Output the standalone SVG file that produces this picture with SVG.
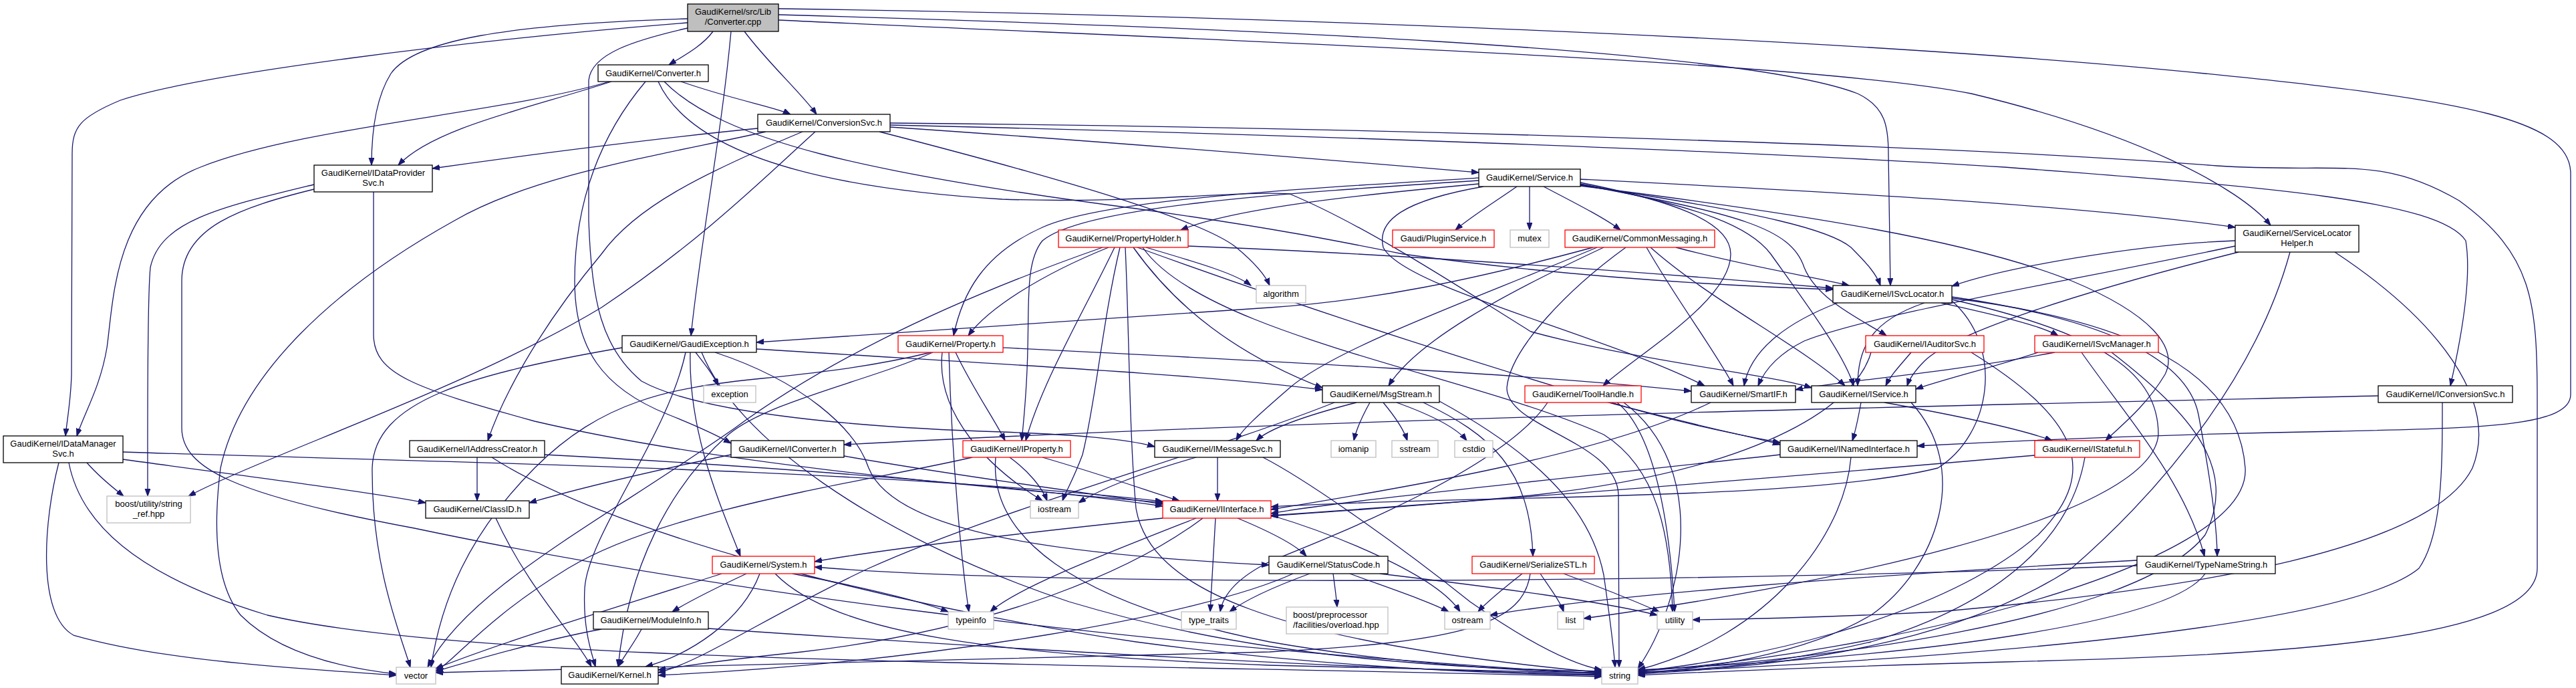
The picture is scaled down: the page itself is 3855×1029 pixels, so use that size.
<svg xmlns="http://www.w3.org/2000/svg" width="3855" height="1029" viewBox="0 0 3855 1029">
<style>
rect{fill:#fff;stroke:#000;stroke-width:1.3}
.r rect{stroke:#f00}
.g rect{stroke:#bfbfbf}
.m rect{fill:#bfbfbf}
text{font-family:"Liberation Sans",Arial,sans-serif;font-size:13px;text-anchor:middle;fill:#000}
.l text{text-anchor:start}
#edges path{fill:none;stroke:#191970;stroke-width:1.3;marker-end:url(#a)}
</style>
<defs>
<marker id="a" markerWidth="12" markerHeight="9" refX="11" refY="4" orient="auto" markerUnits="userSpaceOnUse"><path d="M0,0 L11,4 L0,8 z" fill="#191970" stroke="#191970" stroke-width="1"/></marker>
</defs>
<rect x="0" y="0" width="3855" height="1029" style="fill:#fff;stroke:none"/>
<g id="edges">
<path d="M1067,47 C1050,70 1020,85 1001,97"/>
<path d="M1114,47 C1150,95 1200,140 1222,171"/>
<path d="M1094,47 C1080,200 1050,350 1034,502"/>
<path d="M1029,28 C760,36 620,60 585,110 C560,150 556,210 556,247"/>
<path d="M1029,34 C700,60 300,110 180,150 C120,175 108,190 108,230 L107,560 C106,600 100,630 98,652"/>
<path d="M1029,42 C950,60 885,80 881,120 L881,330 C885,450 900,520 960,570 C1050,620 1300,640 1500,646 C1600,650 1680,655 1728,668"/>
<path d="M1165,13 C1700,20 2700,50 3300,110 C3700,150 3847,180 3847,260 L3847,590 C3847,640 3700,640 3500,645 C3200,650 3000,660 2869,667"/>
<path d="M1165,22 C1800,40 2600,70 2780,140 C2822,160 2826,190 2826,230 L2829,427"/>
<path d="M1165,30 C1800,60 2700,90 2950,140 C3200,200 3350,280 3398,337"/>
<path d="M915,122 C800,160 650,190 596,247"/>
<path d="M912,122 C750,170 450,190 300,250 C170,300 170,450 160,520 C150,580 125,620 115,652"/>
<path d="M966,122 C900,200 860,300 860,420 C860,520 900,580 1000,620 C1050,640 1080,655 1094,663"/>
<path d="M1019,122 C1100,150 1160,160 1183,171"/>
<path d="M994,122 C1080,210 1300,260 1700,312 C1900,340 2000,360 2100,380 C2350,415 2600,428 2743,433"/>
<path d="M985,122 C1030,220 1200,280 1500,298 C1700,305 1850,285 1930,290 C2050,340 2200,440 2291,496 C2450,540 2650,560 2711,580"/>
<path d="M1134,192 C1000,205 800,230 647,252"/>
<path d="M1146,197 C1000,230 800,260 680,330 C500,430 360,560 330,700 C320,780 320,870 360,920 C420,980 520,1000 593,1008"/>
<path d="M1220,197 C1150,260 1050,360 900,460 C700,580 400,680 282,742"/>
<path d="M1201,197 C1050,260 950,310 900,380 C800,500 750,600 730,659"/>
<path d="M1316,197 C1600,270 1800,330 1850,370 C1880,395 1895,415 1900,427"/>
<path d="M1332,190 C1700,215 2000,240 2213,258"/>
<path d="M1332,187 C1900,200 2600,225 3000,250 C3400,280 3650,300 3690,360 C3700,420 3680,520 3667,577"/>
<path d="M1332,184 C2000,190 2900,215 3318,248 C3500,260 3560,230 3680,300 C3790,380 3797,450 3797,600 L3797,850 C3797,960 3400,980 3000,990 C2700,998 2550,1005 2451,1010"/>
<path d="M470,276 C330,310 240,330 225,400 C220,450 221,650 221,742"/>
<path d="M470,283 C360,310 272,340 272,420 L272,640 C272,700 350,740 620,790 C1000,870 1600,960 2397,1008"/>
<path d="M559,287 L559,500 C559,560 620,580 800,630 C1100,700 1500,730 1740,752"/>
<path d="M184,687 C350,710 550,735 637,752"/>
<path d="M130,692 C150,715 170,730 185,742"/>
<path d="M88,692 C65,780 55,920 110,950 C250,990 450,1000 593,1010"/>
<path d="M103,692 C120,780 200,860 400,920 C700,990 1500,990 2397,1012"/>
<path d="M184,676 C600,690 1300,700 1740,750"/>
<path d="M2270,279 C2240,300 2200,325 2178,344"/>
<path d="M2289,279 L2289,344"/>
<path d="M2310,279 C2350,300 2400,325 2425,344"/>
<path d="M2213,275 C2050,290 1850,310 1767,344"/>
<path d="M2213,266 C1900,285 1650,300 1560,340 C1470,380 1440,440 1427,502"/>
<path d="M2213,270 C1900,290 1620,310 1560,360 C1535,390 1540,450 1538,520 C1537,580 1532,630 1529,659"/>
<path d="M2220,279 C2100,300 2060,330 2070,370 C2100,430 2400,500 2551,577"/>
<path d="M2365,268 C2700,285 3100,305 3345,340"/>
<path d="M2365,273 C2500,300 2590,330 2590,380 C2590,450 2450,530 2399,577"/>
<path d="M2365,275 C2550,310 2620,340 2650,380 C2700,450 2760,530 2774,577"/>
<path d="M2365,276 C2600,320 2680,340 2700,400 C2720,450 2790,480 2823,502"/>
<path d="M2365,277 C2650,320 2740,345 2770,370 C2795,395 2808,410 2814,427"/>
<path d="M2365,278 C2700,320 2950,360 3100,420 C3220,470 3260,520 3240,560 C3210,610 3170,640 3151,659"/>
<path d="M3345,360 C3200,365 3000,400 2921,428"/>
<path d="M3345,368 C3100,420 2800,470 2700,510 C2660,530 2640,555 2631,577"/>
<path d="M3350,377 C3100,440 2920,500 2880,540 C2865,555 2858,565 2854,577"/>
<path d="M3427,377 C3380,550 3250,720 3100,850 C2900,980 2600,1000 2451,1008"/>
<path d="M3494,377 C3650,480 3740,600 3700,700 C3640,820 3300,880 2900,915 C2700,925 2600,926 2533,927"/>
<path d="M1650,370 C1450,440 1250,530 1100,640 C900,780 700,880 640,998"/>
<path d="M1659,370 C1560,410 1480,460 1449,502"/>
<path d="M1668,370 C1620,470 1560,570 1535,659"/>
<path d="M1676,370 C1650,480 1640,600 1620,680 C1605,720 1595,735 1590,749"/>
<path d="M1684,370 C1690,500 1690,650 1700,760 C1720,880 1900,960 2397,1006"/>
<path d="M1696,370 C1760,460 1850,530 1979,580"/>
<path d="M1702,370 C1950,460 2200,540 2400,600 C2550,640 2630,655 2664,665"/>
<path d="M1715,370 C1800,395 1850,410 1872,427"/>
<path d="M1778,368 C2100,380 2500,410 2743,431"/>
<path d="M1710,370 C1800,500 2200,560 2400,650 C2480,700 2500,800 2503,915"/>
<path d="M2384,370 C2200,420 2050,450 1900,460 C1600,480 1300,500 1132,512"/>
<path d="M2390,370 C2200,450 2000,520 1930,580 C1890,615 1860,640 1850,659"/>
<path d="M2400,370 C2250,440 2120,510 2078,577"/>
<path d="M2433,370 C2350,430 2260,520 2255,580 C2255,640 2420,660 2422,740 L2423,998"/>
<path d="M2464,370 C2510,450 2570,530 2594,577"/>
<path d="M2470,370 C2560,450 2700,520 2761,577"/>
<path d="M2508,370 C2620,400 2720,415 2767,427"/>
<path d="M2905,453 C2980,470 3050,485 3080,502"/>
<path d="M2750,453 C2680,480 2620,520 2610,577"/>
<path d="M2880,453 C2800,480 2780,520 2780,577"/>
<path d="M2921,444 C3100,470 3270,520 3290,620 C3305,700 3318,780 3318,832"/>
<path d="M2921,448 C3150,500 3230,560 3230,650 C3220,780 2700,880 2370,925"/>
<path d="M2921,446 C3200,480 3350,560 3360,700 C3370,850 2800,980 2451,1004"/>
<path d="M2921,450 C3000,520 2980,650 2900,700 C2700,750 2200,740 1902,758"/>
<path d="M1041,527 C1055,545 1067,560 1075,577"/>
<path d="M931,520 C700,560 560,600 557,700 C556,850 600,950 614,998"/>
<path d="M1026,527 C1000,650 880,800 875,880 C872,940 885,975 891,997"/>
<path d="M1033,527 C1030,650 1080,760 1108,832"/>
<path d="M1070,527 C1200,570 1280,640 1300,700 C1340,800 1600,830 1899,845"/>
<path d="M1050,527 C1100,650 1300,800 1600,900 C1900,990 2200,1000 2397,1004"/>
<path d="M1132,522 C1500,545 1800,560 1979,583"/>
<path d="M1393,527 C1300,550 1200,560 1140,566 C1000,580 900,600 800,700 C700,800 660,900 645,998"/>
<path d="M1396,527 C1300,570 1150,600 1090,650 C1000,730 940,850 925,997"/>
<path d="M1420,527 C1425,700 1440,850 1450,915"/>
<path d="M1430,527 C1455,580 1490,630 1504,659"/>
<path d="M1501,520 C1900,540 2300,560 2531,585"/>
<path d="M1410,527 C1400,620 1480,700 1560,749"/>
<path d="M2030,602 C1960,620 1900,640 1880,659"/>
<path d="M1997,602 C1800,680 1500,760 1300,850 C1150,920 1050,990 985,1006"/>
<path d="M2050,602 C2040,620 2030,640 2026,659"/>
<path d="M2070,602 C2085,620 2100,640 2106,659"/>
<path d="M2090,602 C2140,620 2180,640 2195,659"/>
<path d="M2130,602 C2230,650 2290,700 2294,832"/>
<path d="M2154,600 C2300,680 2380,760 2400,860 C2410,930 2415,970 2417,998"/>
<path d="M1822,684 L1822,749"/>
<path d="M1790,684 C1700,710 1650,730 1614,752"/>
<path d="M1890,684 C1960,720 2100,820 2200,900 C2300,970 2360,995 2397,1002"/>
<path d="M1455,684 C1300,720 1000,760 850,850 C720,930 680,990 652,1003"/>
<path d="M1511,684 C1540,705 1560,730 1567,749"/>
<path d="M1560,684 C1650,710 1720,735 1765,749"/>
<path d="M1490,684 C1480,800 1600,900 1900,960 C2100,995 2300,1005 2397,1006"/>
<path d="M1094,680 C950,710 850,735 792,752"/>
<path d="M1263,682 C1450,715 1650,740 1740,754"/>
<path d="M714,684 L714,749"/>
<path d="M815,680 C1200,700 1550,730 1740,757"/>
<path d="M736,684 C900,790 1300,900 1700,960 C2000,1000 2250,1008 2397,1010"/>
<path d="M3559,592 C3000,605 2000,625 1263,665"/>
<path d="M3655,602 C3655,700 3655,800 3620,850 C3500,950 2800,990 2451,1006"/>
<path d="M2560,602 C2400,680 2100,730 1902,762"/>
<path d="M2785,602 C2780,630 2775,650 2772,659"/>
<path d="M2820,602 C2920,620 3020,640 3071,659"/>
<path d="M2860,602 C2950,700 2900,850 2800,920 C2700,980 2550,1000 2451,1007"/>
<path d="M2664,680 C2300,720 2000,750 1902,768"/>
<path d="M2770,684 C2760,800 2650,950 2451,1002"/>
<path d="M3045,681 C2600,720 2200,750 1902,771"/>
<path d="M3120,684 C3100,800 3000,900 2800,960 C2650,995 2550,1002 2451,1005"/>
<path d="M2860,527 C2845,545 2830,560 2822,577"/>
<path d="M2800,527 C2780,600 2650,700 2300,740 C2100,760 1980,765 1902,772"/>
<path d="M2950,527 C3100,620 3150,700 3050,800 C2900,930 2600,990 2451,1004"/>
<path d="M3050,527 C2980,550 2900,570 2867,582"/>
<path d="M3075,527 C2900,560 2750,570 2687,583"/>
<path d="M3115,527 C3180,620 3270,720 3299,832"/>
<path d="M3160,527 C3280,620 3350,700 3300,800 C3200,930 2700,990 2451,1003"/>
<path d="M2316,602 C2250,700 2000,800 1900,840 C1850,865 1830,890 1826,915"/>
<path d="M2412,602 C2500,630 2600,650 2664,662"/>
<path d="M2420,602 C2480,650 2500,800 2506,915"/>
<path d="M2430,602 C2560,700 2520,900 2451,1000"/>
<path d="M1740,775 C1500,800 1300,825 1219,840"/>
<path d="M1790,775 C1650,830 1520,880 1482,915"/>
<path d="M1800,775 C1700,850 1500,940 1200,975 C1100,985 1030,995 985,1002"/>
<path d="M1819,775 L1811,915"/>
<path d="M1852,775 C1900,795 1940,815 1955,832"/>
<path d="M1900,770 C2000,800 2150,860 2185,915"/>
<path d="M742,775 C790,880 860,950 885,997"/>
<path d="M1117,858 C1070,880 1030,900 1006,915"/>
<path d="M1137,858 C1110,930 1030,980 966,997"/>
<path d="M1186,858 C1300,880 1380,900 1419,915"/>
<path d="M1080,858 C950,900 750,960 652,1000"/>
<path d="M1160,858 C1250,950 1500,980 1900,995 C2150,1002 2300,1005 2397,1007"/>
<path d="M960,941 C950,960 935,980 925,997"/>
<path d="M900,941 C800,960 700,990 652,1004"/>
<path d="M1060,940 C1500,970 2000,1000 2397,1009"/>
<path d="M1995,858 C1998,880 2000,895 2001,908"/>
<path d="M2020,858 C2080,880 2140,900 2168,915"/>
<path d="M2065,858 C2250,880 2400,900 2480,920"/>
<path d="M1960,858 C1900,880 1860,900 1840,915"/>
<path d="M1935,858 C1800,920 1400,990 985,1010"/>
<path d="M2278,858 C2250,880 2225,900 2212,915"/>
<path d="M2305,858 C2320,880 2335,900 2340,915"/>
<path d="M2340,858 C2400,880 2460,905 2483,915"/>
<path d="M2290,858 C2280,930 2200,960 1900,975 C1400,990 900,1000 652,1006"/>
<path d="M3198,838 C2800,860 2400,890 2230,920"/>
<path d="M3198,846 C2600,870 1600,880 1219,848"/>
<path d="M3300,858 C3250,930 2900,980 2451,1002"/>
</g>
<g id="n_cpp" class="m"><rect x="1029" y="6" width="136" height="41"/><text x="1097" y="22">GaudiKernel/src/Lib</text><text x="1097" y="37">/Converter.cpp</text></g>
<g id="n_converter"><rect x="895" y="97" width="165" height="25"/><text x="977.5" y="114">GaudiKernel/Converter.h</text></g>
<g id="n_conversionsvc"><rect x="1134" y="171" width="198" height="26"/><text x="1233" y="188">GaudiKernel/ConversionSvc.h</text></g>
<g id="n_idataprovidersvc"><rect x="470" y="247" width="177" height="40"/><text x="558.5" y="263">GaudiKernel/IDataProvider</text><text x="558.5" y="278">Svc.h</text></g>
<g id="n_service"><rect x="2213" y="253" width="152" height="26"/><text x="2289" y="270">GaudiKernel/Service.h</text></g>
<g id="n_servicelocatorhelper"><rect x="3345" y="337" width="185" height="40"/><text x="3437.5" y="353">GaudiKernel/ServiceLocator</text><text x="3437.5" y="368">Helper.h</text></g>
<g id="n_propertyholder" class="r"><rect x="1584" y="344" width="194" height="26"/><text x="1681" y="361">GaudiKernel/PropertyHolder.h</text></g>
<g id="n_pluginservice" class="r"><rect x="2084" y="344" width="152" height="26"/><text x="2160" y="361">Gaudi/PluginService.h</text></g>
<g id="n_mutex" class="g"><rect x="2260" y="344" width="58" height="26"/><text x="2289" y="361">mutex</text></g>
<g id="n_commonmessaging" class="r"><rect x="2342" y="344" width="224" height="26"/><text x="2454" y="361">GaudiKernel/CommonMessaging.h</text></g>
<g id="n_algorithm" class="g"><rect x="1880" y="427" width="74" height="26"/><text x="1917" y="444">algorithm</text></g>
<g id="n_isvclocator"><rect x="2743" y="427" width="178" height="26"/><text x="2832" y="444">GaudiKernel/ISvcLocator.h</text></g>
<g id="n_gaudiexception"><rect x="931" y="502" width="201" height="25"/><text x="1031.5" y="519">GaudiKernel/GaudiException.h</text></g>
<g id="n_property" class="r"><rect x="1344" y="502" width="157" height="25"/><text x="1422.5" y="519">GaudiKernel/Property.h</text></g>
<g id="n_iauditorsvc" class="r"><rect x="2792" y="502" width="177" height="25"/><text x="2880.5" y="519">GaudiKernel/IAuditorSvc.h</text></g>
<g id="n_isvcmanager" class="r"><rect x="3045" y="502" width="185" height="25"/><text x="3137.5" y="519">GaudiKernel/ISvcManager.h</text></g>
<g id="n_exception" class="g"><rect x="1053" y="577" width="78" height="25"/><text x="1092" y="594">exception</text></g>
<g id="n_msgstream"><rect x="1979" y="577" width="175" height="25"/><text x="2066.5" y="594">GaudiKernel/MsgStream.h</text></g>
<g id="n_toolhandle" class="r"><rect x="2282" y="577" width="174" height="25"/><text x="2369" y="594">GaudiKernel/ToolHandle.h</text></g>
<g id="n_smartif"><rect x="2531" y="577" width="156" height="25"/><text x="2609" y="594">GaudiKernel/SmartIF.h</text></g>
<g id="n_iservice"><rect x="2711" y="577" width="156" height="25"/><text x="2789" y="594">GaudiKernel/IService.h</text></g>
<g id="n_iconversionsvc"><rect x="3559" y="577" width="201" height="25"/><text x="3659.5" y="594">GaudiKernel/IConversionSvc.h</text></g>
<g id="n_idatamanagersvc"><rect x="5" y="652" width="179" height="40"/><text x="94.5" y="668">GaudiKernel/IDataManager</text><text x="94.5" y="683">Svc.h</text></g>
<g id="n_iaddresscreator"><rect x="613" y="659" width="202" height="25"/><text x="714" y="676">GaudiKernel/IAddressCreator.h</text></g>
<g id="n_iconverter"><rect x="1094" y="659" width="169" height="25"/><text x="1178.5" y="676">GaudiKernel/IConverter.h</text></g>
<g id="n_iproperty" class="r"><rect x="1441" y="659" width="161" height="25"/><text x="1521.5" y="676">GaudiKernel/IProperty.h</text></g>
<g id="n_imessagesvc"><rect x="1728" y="659" width="188" height="25"/><text x="1822" y="676">GaudiKernel/IMessageSvc.h</text></g>
<g id="n_iomanip" class="g"><rect x="1992" y="659" width="67" height="25"/><text x="2025.5" y="676">iomanip</text></g>
<g id="n_sstream" class="g"><rect x="2083" y="659" width="69" height="25"/><text x="2117.5" y="676">sstream</text></g>
<g id="n_cstdio" class="g"><rect x="2177" y="659" width="57" height="25"/><text x="2205.5" y="676">cstdio</text></g>
<g id="n_inamedinterface"><rect x="2664" y="659" width="205" height="25"/><text x="2766.5" y="676">GaudiKernel/INamedInterface.h</text></g>
<g id="n_istateful" class="r"><rect x="3045" y="659" width="157" height="25"/><text x="3123.5" y="676">GaudiKernel/IStateful.h</text></g>
<g id="n_string_ref" class="g"><rect x="160" y="742" width="125" height="40"/><text x="222.5" y="758">boost/utility/string</text><text x="222.5" y="773">_ref.hpp</text></g>
<g id="n_classid"><rect x="637" y="749" width="155" height="26"/><text x="714.5" y="766">GaudiKernel/ClassID.h</text></g>
<g id="n_iostream" class="g"><rect x="1542" y="749" width="72" height="26"/><text x="1578" y="766">iostream</text></g>
<g id="n_iinterface" class="r"><rect x="1740" y="749" width="162" height="26"/><text x="1821" y="766">GaudiKernel/IInterface.h</text></g>
<g id="n_system" class="r"><rect x="1066" y="832" width="153" height="26"/><text x="1142.5" y="849">GaudiKernel/System.h</text></g>
<g id="n_statuscode"><rect x="1899" y="832" width="178" height="26"/><text x="1988" y="849">GaudiKernel/StatusCode.h</text></g>
<g id="n_serializestl" class="r"><rect x="2203" y="832" width="183" height="26"/><text x="2294.5" y="849">GaudiKernel/SerializeSTL.h</text></g>
<g id="n_typenamestring"><rect x="3198" y="832" width="207" height="26"/><text x="3301.5" y="849">GaudiKernel/TypeNameString.h</text></g>
<g id="n_moduleinfo"><rect x="888" y="915" width="172" height="26"/><text x="974" y="932">GaudiKernel/ModuleInfo.h</text></g>
<g id="n_typeinfo" class="g"><rect x="1419" y="915" width="68" height="26"/><text x="1453" y="932">typeinfo</text></g>
<g id="n_type_traits" class="g"><rect x="1768" y="915" width="82" height="26"/><text x="1809" y="932">type_traits</text></g>
<g id="n_overload" class="g l"><rect x="1925" y="908" width="152" height="40"/><text x="1935" y="924">boost/preprocessor</text><text x="1935" y="939">/facilities/overload.hpp</text></g>
<g id="n_ostream" class="g"><rect x="2162" y="915" width="68" height="26"/><text x="2196" y="932">ostream</text></g>
<g id="n_list" class="g"><rect x="2331" y="915" width="39" height="26"/><text x="2350.5" y="932">list</text></g>
<g id="n_utility" class="g"><rect x="2480" y="915" width="53" height="26"/><text x="2506.5" y="932">utility</text></g>
<g id="n_vector" class="g"><rect x="593" y="998" width="59" height="25"/><text x="622.5" y="1015">vector</text></g>
<g id="n_kernel"><rect x="840" y="997" width="145" height="26"/><text x="912.5" y="1014">GaudiKernel/Kernel.h</text></g>
<g id="n_string" class="g"><rect x="2397" y="998" width="54" height="25"/><text x="2424" y="1015">string</text></g>
</svg>
